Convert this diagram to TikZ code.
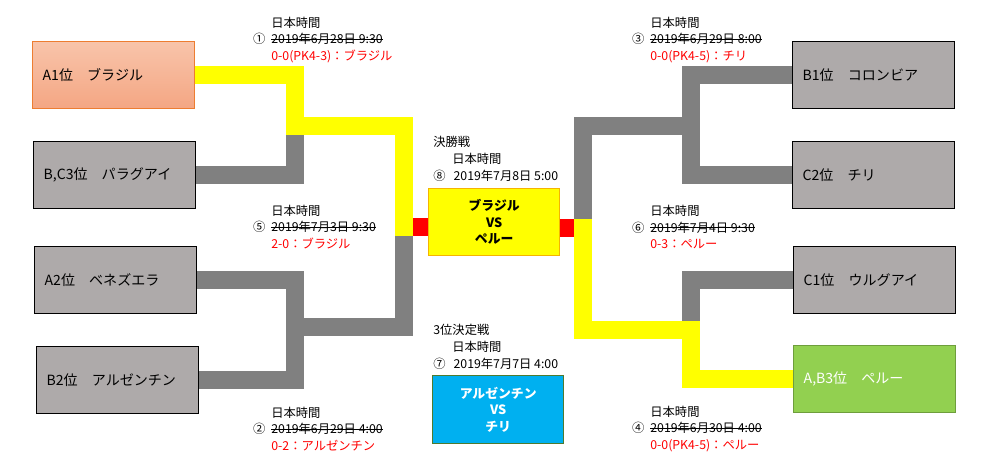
\documentclass[tikz,border=0pt]{standalone}
\usepackage{fontspec}
\setmainfont{Noto Sans CJK JP}
\usepackage{xcolor}
\usepackage{tikz}
\definecolor{barYellow}{HTML}{FFFF00}
\definecolor{barGray}{HTML}{808080}
\definecolor{barRed}{HTML}{FF0000}
\definecolor{teamGray}{HTML}{AEAAAA}
\definecolor{resultRed}{HTML}{FF0000}
\definecolor{leaderTop}{HTML}{F8C4AA}
\definecolor{leaderBottom}{HTML}{F4A683}
\definecolor{leaderLine}{HTML}{ED7D31}
\definecolor{winnerGreen}{HTML}{92D050}
\definecolor{winnerLine}{HTML}{6E9E3C}
\definecolor{finalLine}{HTML}{F5B400}
\definecolor{thirdBlue}{HTML}{00B0F0}
\definecolor{thirdLine}{HTML}{4E7A30}

\newsavebox\strikeBox
\newcommand\strikeout[1]{\sbox\strikeBox{#1}\rlap{\usebox\strikeBox}\rule[0.33em]{\wd\strikeBox}{0.5pt}}

\begin{document}
\begin{tikzpicture}[x=0.02cm, y=-0.02cm,
  teamStyle/.style={draw=black, line width=0.8pt, fill=teamGray, anchor=north west, minimum height=1.34cm, inner xsep=0.2cm, text width=2.84cm, align=left, font=\fontsize{8}{9}\selectfont},
  matchStyle/.style={line width=0.8pt, anchor=north west, minimum width=2.62cm, minimum height=1.34cm, align=center, font=\fontsize{7.3}{9.4}\selectfont\bfseries},
  infoStyle/.style={anchor=west, inner sep=0pt, align=left, font=\fontsize{7}{9.5}\selectfont},
  barStyle/.style={line width=0.36cm}
]
\useasboundingbox (0,0) rectangle (985,472);

\node[teamStyle, draw=leaderLine, top color=leaderTop, bottom color=leaderBottom] (A1) at (32,41) {A1位　ブラジル};
\node[teamStyle] (BC3) at (33,141) {B,C3位　パラグアイ};
\node[teamStyle] (A2)  at (34,246) {A2位　ベネズエラ};
\node[teamStyle] (B2)  at (36,346) {B2位　アルゼンチン};

\node[teamStyle] (B1)  at (792,41)  {B1位　コロンビア};
\node[teamStyle] (C2)  at (792,141) {C2位　チリ};
\node[teamStyle] (C1)  at (793,246) {C1位　ウルグアイ};
\node[teamStyle, draw=winnerLine, fill=winnerGreen, text=white] (AB3) at (793,345) {A,B3位　ペルー};

\node[matchStyle, draw=finalLine, fill=barYellow] (final) at (428,188) {ブラジル\\VS\\ペルー};
\node[matchStyle, draw=thirdLine, fill=thirdBlue, text=white, minimum height=1.36cm] (third) at (432,375) {アルゼンチン\\VS\\チリ};

\coordinate (j1) at (295,126);
\coordinate (j2) at (295,327);
\coordinate (j5) at (404,227);
\coordinate (j3) at (691,126);
\coordinate (j6) at (691,330);
\coordinate (jF) at (583,228);

\draw[barStyle, barGray] (BC3.east) -| (j1);
\draw[barStyle, barGray] (A2.east) -| (j2);
\draw[barStyle, barGray] (B2.east) -| (j2);
\draw[barStyle, barGray] (j2) -| (j5);
\draw[barStyle, barYellow] (A1.east) -| (j1) -| (j5) -- ++(0,9);
\draw[barStyle, barRed] (j5) ++(9,0) -- (j5 -| final.west);

\draw[barStyle, barGray] (B1.west) -| (j3);
\draw[barStyle, barGray] (C2.west) -| (j3);
\draw[barStyle, barGray] (j3) -| (jF);
\draw[barStyle, barGray] (C1.west) -| (j6);
\draw[barStyle, barYellow] (AB3.west) -| (j6) -| (jF) -- ++(0,-9);
\draw[barStyle, barRed] (jF) ++(-9,0) -- (jF -| final.east);

\node[infoStyle] (m1) at (271,40)  {日本時間\\\llap{①\hspace{0.12cm}}\strikeout{2019年6月28日 9:30}\\\textcolor{resultRed}{0-0(PK4-3)：ブラジル}};
\node[infoStyle] (m3) at (650,40)  {日本時間\\\llap{③\hspace{0.12cm}}\strikeout{2019年6月29日 8:00}\\\textcolor{resultRed}{0-0(PK4-5)：チリ}};
\node[infoStyle] (m5) at (271,227) {日本時間\\\llap{⑤\hspace{0.12cm}}\strikeout{2019年7月3日 9:30}\\\textcolor{resultRed}{2-0：ブラジル}};
\node[infoStyle] (m6) at (650,227) {日本時間\\\llap{⑥\hspace{0.12cm}}\strikeout{2019年7月4日 9:30}\\\textcolor{resultRed}{0-3：ペルー}};
\node[infoStyle] (m2) at (271,429) {日本時間\\\llap{②\hspace{0.12cm}}\strikeout{2019年6月29日 4:00}\\\textcolor{resultRed}{0-2：アルゼンチン}};
\node[infoStyle] (m4) at (650,429) {日本時間\\\llap{④\hspace{0.12cm}}\strikeout{2019年6月30日 4:00}\\\textcolor{resultRed}{0-0(PK4-5)：ペルー}};

\node[infoStyle] (finalInfo) at (433,159) {決勝戦\\\hspace*{0.38cm}日本時間\\⑧\hspace{0.16cm}2019年7月8日 5:00};
\node[infoStyle] (thirdInfo) at (433,347) {3位決定戦\\\hspace*{0.38cm}日本時間\\⑦\hspace{0.16cm}2019年7月7日 4:00};
\end{tikzpicture}
\end{document}
